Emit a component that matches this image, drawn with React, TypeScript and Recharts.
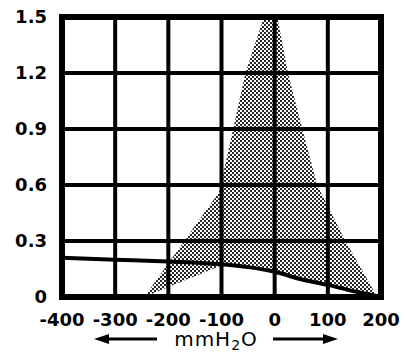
import {
  ComposedChart,
  Area,
  Line,
  XAxis,
  YAxis,
  ReferenceLine,
  ReferenceArea,
} from "recharts";

// axis ticks
const X_TICKS = [-400, -300, -200, -100, 0, 100, 200];
const Y_TICKS = [0, 0.3, 0.6, 0.9, 1.2, 1.5];

// solid curve
const CURVE_X = [-400, -300, -200, -100, -50, 0, 50, 100, 150, 200];
const CURVE_Y = [0.21, 0.2, 0.19, 0.175, 0.16, 0.135, 0.095, 0.065, 0.03, 0];

// stippled zone: lower and upper edge at each x
const ZONE_X = [-245, -170, -105, -100, -78, -55, -20, -5, 5, 25, 52, 80, 133, 193];
const ZONE_LO = [0, 0.088, 0.164, 0.175, 0.17, 0.16, 0.15, 0.14, 0.13, 0.115, 0.095, 0.075, 0.045, 0];
const ZONE_HI = [0, 0.3, 0.56, 0.62, 0.9, 1.2, 1.5, 1.5, 1.5, 1.2, 0.9, 0.6, 0.3, 0];

const curveData = CURVE_X.map((x, i) => ({ x, y: CURVE_Y[i] }));
const zoneData = ZONE_X.map((x, i) => ({ x, band: [ZONE_LO[i], ZONE_HI[i]] }));

const FONT = "'DejaVu Sans', sans-serif";

function AxisTitle() {
  const y = 346;
  return (
    <g>
      <line x1={103} y1={y - 7} x2={157} y2={y - 7} stroke="#000" strokeWidth={3} />
      <polygon points={`94,${y - 7} 109,${y - 12} 109,${y - 2}`} fill="#000" />
      <line x1={273} y1={y - 7} x2={328} y2={y - 7} stroke="#000" strokeWidth={3} />
      <polygon points={`338,${y - 7} 323,${y - 12} 323,${y - 2}`} fill="#000" />
      <text
        x={216}
        y={y}
        textAnchor="middle"
        fill="#000"
        fontSize={20}
        fontFamily={FONT}
        letterSpacing={1}
      >
        <tspan>mmH</tspan>
        <tspan dy={4} fontSize={14}>2</tspan>
        <tspan dy={-4}>O</tspan>
      </text>
    </g>
  );
}

const tickStyle = { fill: "#000", fontSize: 18, fontWeight: "bold", fontFamily: FONT };

export default function App() {
  return (
    <div style={{ position: "absolute", left: 0, top: 0, background: "#fff" }}>
      <ComposedChart
        width={406}
        height={361}
        margin={{ top: 17, right: 25, bottom: 0, left: 0 }}
      >
        <defs>
          <pattern id="stipple" width="4" height="4" patternUnits="userSpaceOnUse">
            <rect x="0" y="0" width="2" height="2" fill="#000" />
            <rect x="2" y="2" width="2" height="2" fill="#000" />
          </pattern>
        </defs>
        <XAxis
          type="number"
          dataKey="x"
          domain={[-400, 200]}
          ticks={X_TICKS}
          allowDataOverflow
          axisLine={false}
          tickLine={false}
          tickSize={0}
          tickMargin={16}
          height={64}
          interval={0}
          tick={tickStyle}
          label={<AxisTitle />}
        />
        <YAxis
          type="number"
          domain={[0, 1.5]}
          ticks={Y_TICKS}
          allowDataOverflow
          axisLine={false}
          tickLine={false}
          tickSize={0}
          tickMargin={15}
          width={62}
          interval={0}
          tick={tickStyle}
        />
        <Area
          data={zoneData}
          dataKey="band"
          type="linear"
          stroke="none"
          fill="url(#stipple)"
          fillOpacity={0.85}
          isAnimationActive={false}
        />
        {X_TICKS.slice(1, -1).map((t) => (
          <ReferenceLine key={"x" + t} x={t} stroke="#000" strokeWidth={4} />
        ))}
        {Y_TICKS.slice(1, -1).map((t) => (
          <ReferenceLine key={"y" + t} y={t} stroke="#000" strokeWidth={4} />
        ))}
        <Line
          data={curveData}
          dataKey="y"
          type="monotone"
          stroke="#000"
          strokeWidth={4}
          dot={false}
          isAnimationActive={false}
        />
        <ReferenceArea
          x1={-400}
          x2={200}
          y1={0}
          y2={1.5}
          fill="none"
          stroke="#000"
          strokeWidth={6}
        />
      </ComposedChart>
    </div>
  );
}
